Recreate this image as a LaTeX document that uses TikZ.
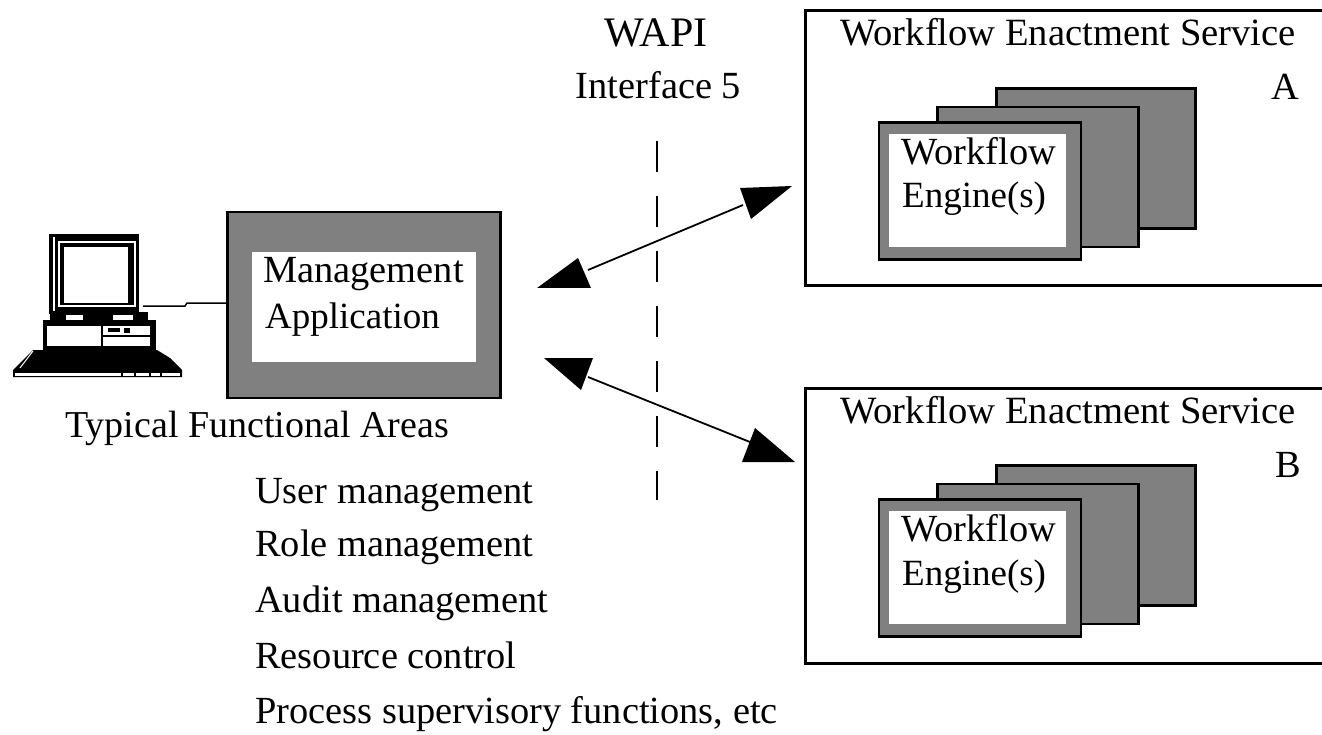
\documentclass[tikz,border=0pt]{standalone}
\usepackage{fontspec}
\setmainfont{Liberation Serif}
\definecolor{panelgrey}{HTML}{808080}
\tikzset{
    panel/.style={draw=black, line width=2.5pt, fill=panelgrey, inner sep=0pt},
    pane/.style={fill=white, inner sep=0pt},
    servicebox/.style={draw=black, line width=3pt, fill=white, inner sep=0pt},
    label/.style={anchor=base west, inner sep=0pt, font=\fontsize{38.4}{38.4}\selectfont},
    narrowlabel/.style={label, font=\fontsize{37}{37}\selectfont},
    link/.style={line width=1.8pt},
}
\begin{document}
\begin{tikzpicture}[x=1pt, y=-1pt]
    \useasboundingbox[fill=white] (0,0) rectangle (1322,735);

    % the computer
    \node[fill=black, inner sep=0pt, minimum width=90pt, minimum height=80pt] (monitor) at (94,274) {};
    \draw[white, line width=1.2pt] (54,237) -- (54,311);
    \draw[white, line width=1.5pt] (59,242) rectangle (135,306);
    \fill[white] (64,247) rectangle (128,303);
    \fill[black] (43,320) rectangle (156,352);
    \fill[black] (50,312) rectangle (148,322);
    \fill[white] (66,315) rectangle (83,320);
    \fill[white] (113,315) rectangle (133,320);
    \fill[white] (47,326) rectangle (100.5,346);
    \fill[white] (103,326) rectangle (150,346);
    \fill[black] (103,335) rectangle (150,337);
    \fill[black] (108,328) rectangle (120,332);
    \fill[black] (124,328) rectangle (130,333);
    \fill[black] (13,377) -- (13,370) -- (33,350) -- (157,350) -- (170,358) -- (182,370) -- (182,377) -- cycle;
    \draw[white, line width=1pt] (20,368) -- (33,351);
    \fill[white] (15,373) rectangle (121,375.5);
    \foreach \keyx/\keyend in {123/134, 136/149, 151/160, 162/180}
        \fill[white] (\keyx,373) rectangle (\keyend,375.5);
    \coordinate (pcport) at (143,306);

    % management application
    \node[panel, minimum width=273pt, minimum height=186pt] (mgmtbox) at (364,305) {};
    \node[pane, minimum width=224pt, minimum height=110pt] (mgmtpane) at (364,307) {};
    \node[label] (mgmtname) at (263,283) {Management};
    \node[narrowlabel] (mgmtapp) at (265,328) {Application};
    \draw[line width=1.5pt] (pcport) -- ++(42,0) -- ++(2,-3) -- (mgmtbox.west |- 0,303);

    % functional areas
    \node[narrowlabel, font=\fontsize{38}{38}\selectfont] (areas) at (65,437) {Typical Functional Areas};
    \node[label] (areauser) at (255,503) {User management};
    \node[label] (arearole) at (255,556) {Role management};
    \node[label] (areaaudit) at (255,612) {Audit management};
    \node[label] (arearesource) at (255,668) {Resource control};
    \node[label] (areaprocess) at (255,723) {Process supervisory functions, etc};

    % interface 5
    \node[label, anchor=base, font=\fontsize{42}{42}\selectfont] (wapi) at (656,47) {WAPI};
    \node[label, anchor=base] (iface) at (658.5,99) {Interface 5};
    \coordinate (dashtop) at (657,141);
    \coordinate (dashend) at (657,500);
    \draw[line width=1.5pt, dash pattern=on 31pt off 24pt] (dashtop) -- (dashend);

    % the two services
    \foreach \svc/\svcy/\letterx in {A/0/1271, B/377/1275} {
        \node[servicebox, minimum width=530pt, minimum height=275pt] (service\svc) at (1070,148.5+\svcy) {};
        \node[label, font=\fontsize{38.6}{38.6}\selectfont] (title\svc) at (840,46+\svcy) {Workflow Enactment Service};
        \node[label] (letter\svc) at (\letterx,100+\svcy) {\svc};
        \node[panel, minimum width=199pt, minimum height=140pt] (back\svc) at (1096,158.5+\svcy) {};
        \node[panel, minimum width=201pt, minimum height=140pt] (mid\svc) at (1038,177+\svcy) {};
        \node[panel, minimum width=202pt, minimum height=137pt] (front\svc) at (980,191+\svcy) {};
        \node[pane, minimum width=177pt, minimum height=113pt] (pane\svc) at (977.5,190.5+\svcy) {};
        \node[label] (engineone\svc) at (901,164.5+\svcy) {Workflow};
        \node[narrowlabel] (enginetwo\svc) at (902,208+\svcy) {Engine(s)};
    }

    % arrows to the services
    \coordinate (upperleft) at (588,270);
    \coordinate (upperright) at (743,205);
    \coordinate (lowerleft) at (588,377);
    \coordinate (lowerright) at (750,442);
    \draw[link] (upperleft) -- (upperright);
    \draw[link] (lowerleft) -- (lowerright);
    \fill (792,186) -- (740,188) -- (751,219) -- cycle;
    \fill (537,288) -- (578,258) -- (591,288) -- cycle;
    \fill (544,358) -- (593,358) -- (581,390) -- cycle;
    \fill (795,462) -- (755,428) -- (742,462) -- cycle;
\end{tikzpicture}
\end{document}
